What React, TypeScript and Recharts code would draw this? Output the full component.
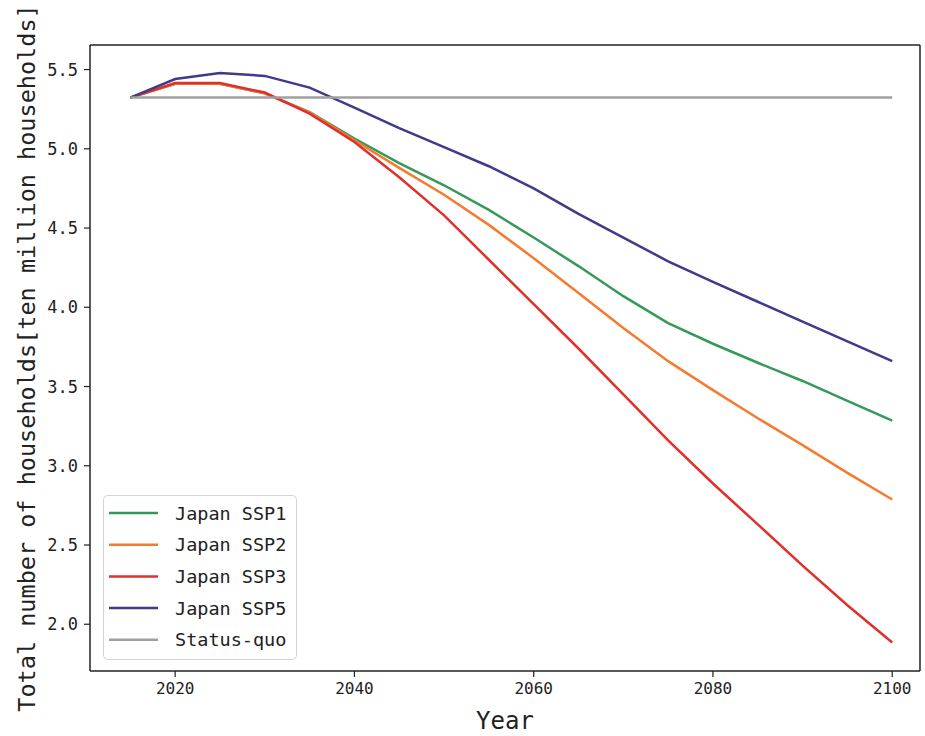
import { LineChart, Line, XAxis, YAxis, Legend, ReferenceLine } from 'recharts';

const years = [2015, 2020, 2025, 2030, 2035, 2040, 2045, 2050, 2055, 2060, 2065, 2070, 2075, 2080, 2085, 2090, 2095, 2100];
const ssp1 = [5.323, 5.41, 5.41, 5.35, 5.232, 5.065, 4.91, 4.77, 4.615, 4.44, 4.26, 4.07, 3.9, 3.77, 3.65, 3.535, 3.41, 3.285];
const ssp2 = [5.323, 5.41, 5.41, 5.35, 5.23, 5.054, 4.88, 4.71, 4.52, 4.31, 4.09, 3.87, 3.66, 3.477, 3.3, 3.13, 2.955, 2.787];
const ssp3 = [5.323, 5.415, 5.415, 5.355, 5.222, 5.043, 4.82, 4.58, 4.3, 4.02, 3.74, 3.45, 3.16, 2.888, 2.63, 2.37, 2.12, 1.885];
const ssp5 = [5.323, 5.44, 5.479, 5.46, 5.386, 5.26, 5.13, 5.01, 4.89, 4.75, 4.59, 4.44, 4.29, 4.16, 4.035, 3.91, 3.785, 3.66];
const statusQuo = [5.323, 5.323, 5.323, 5.323, 5.323, 5.323, 5.323, 5.323, 5.323, 5.323, 5.323, 5.323, 5.323, 5.323, 5.323, 5.323, 5.323, 5.323];

const xTicks = [2020, 2040, 2060, 2080, 2100];
const yTicks = [2.0, 2.5, 3.0, 3.5, 4.0, 4.5, 5.0, 5.5];
const xDomain = [2010.5, 2103.1];
const yDomain = [1.705, 5.655];

const series = [
  { key: 'ssp1', name: 'Japan SSP1', color: '#35995a' },
  { key: 'ssp2', name: 'Japan SSP2', color: '#f47b30' },
  { key: 'ssp3', name: 'Japan SSP3', color: '#e0302c' },
  { key: 'ssp5', name: 'Japan SSP5', color: '#3f3a8a' },
  { key: 'statusQuo', name: 'Status-quo', color: '#a0a0a0' },
];

const data = years.map((year, i) => ({
  year,
  ssp1: ssp1[i],
  ssp2: ssp2[i],
  ssp3: ssp3[i],
  ssp5: ssp5[i],
  statusQuo: statusQuo[i],
}));

const FONT = '"DejaVu Sans Mono", monospace';
const INK = '#222';

const YTick = ({ x, y, payload }: any) => {
  const s = Number(payload.value).toFixed(1);
  return (
    <text x={x} y={y} dy="0.36em" textAnchor="end" fontFamily={FONT} fontSize={17} fill={INK}>
      {s}
    </text>
  );
};

const XTick = ({ x, y, payload }: any) => {
  const s = String(payload.value);
  return (
    <text x={x} y={y} dy="0.71em" textAnchor="middle" fontFamily={FONT} fontSize={16} fill={INK}>
      {s}
    </text>
  );
};

const LegendBox = () => (
  <div style={{ width: 194, height: 165, border: '1.5px solid #d4d4d4', borderRadius: 5, background: '#fff', boxSizing: 'border-box' }}>
    <svg width={190} height={161}>
      {series.map((s, i) => (
        <g key={s.key}>
          <line x1={5} x2={54} y1={17 + i * 31.7} y2={17 + i * 31.7} stroke={s.color} strokeWidth={2.5} />
          <text x={71} y={17 + i * 31.7} dy="0.36em" fontFamily={FONT} fontSize={18.5} fill={INK}>
            {s.name}
          </text>
        </g>
      ))}
    </svg>
  </div>
);

export default function App() {
  return (
    <div style={{ position: 'absolute', left: 0, top: 0, width: 925, height: 736, background: '#fff' }}>
      <LineChart width={925} height={736} data={data} margin={{ top: 45, right: 5, bottom: 0, left: 0 }}>
        <XAxis dataKey="year" type="number" domain={xDomain} ticks={xTicks} allowDataOverflow
          height={65} axisLine={{ stroke: INK, strokeWidth: 1.5 }} tickLine={{ stroke: INK, strokeWidth: 1.2 }}
          tickSize={6} tickMargin={6} tick={<XTick />}
          label={{
            content: ({ viewBox }: any) => (
              <text x={viewBox.x + viewBox.width / 2} y={729} textAnchor="middle" fontFamily={FONT} fontSize={24} fill={INK}>
                Year
              </text>
            ),
          }}
        />
        <YAxis type="number" domain={yDomain} ticks={yTicks} allowDataOverflow width={90}
          axisLine={{ stroke: INK, strokeWidth: 1.5 }} tickLine={{ stroke: INK, strokeWidth: 1.2 }}
          tickSize={6} tickMargin={6} tick={<YTick />}
          label={{
            content: () => (
              <text x={27} y={358} transform="rotate(-90, 27, 358)" textAnchor="middle" dominantBaseline="central"
                fontFamily={FONT} fontSize={23.5} fill={INK}>
                Total number of households[ten million households]
              </text>
            ),
          }}
        />
        <ReferenceLine y={yDomain[1]} stroke={INK} strokeWidth={1.5} />
        <ReferenceLine x={xDomain[1]} stroke={INK} strokeWidth={1.5} />
        {series.map((s) => (
          <Line key={s.key} type="linear" dataKey={s.key} name={s.name} stroke={s.color} strokeWidth={2.5}
            dot={false} activeDot={false} isAnimationActive={false} />
        ))}
        <Legend layout="vertical" align="center" verticalAlign="middle" content={<LegendBox />}
          wrapperStyle={{ left: 103, top: 495, width: 194, height: 165 }} />
      </LineChart>
    </div>
  );
}
